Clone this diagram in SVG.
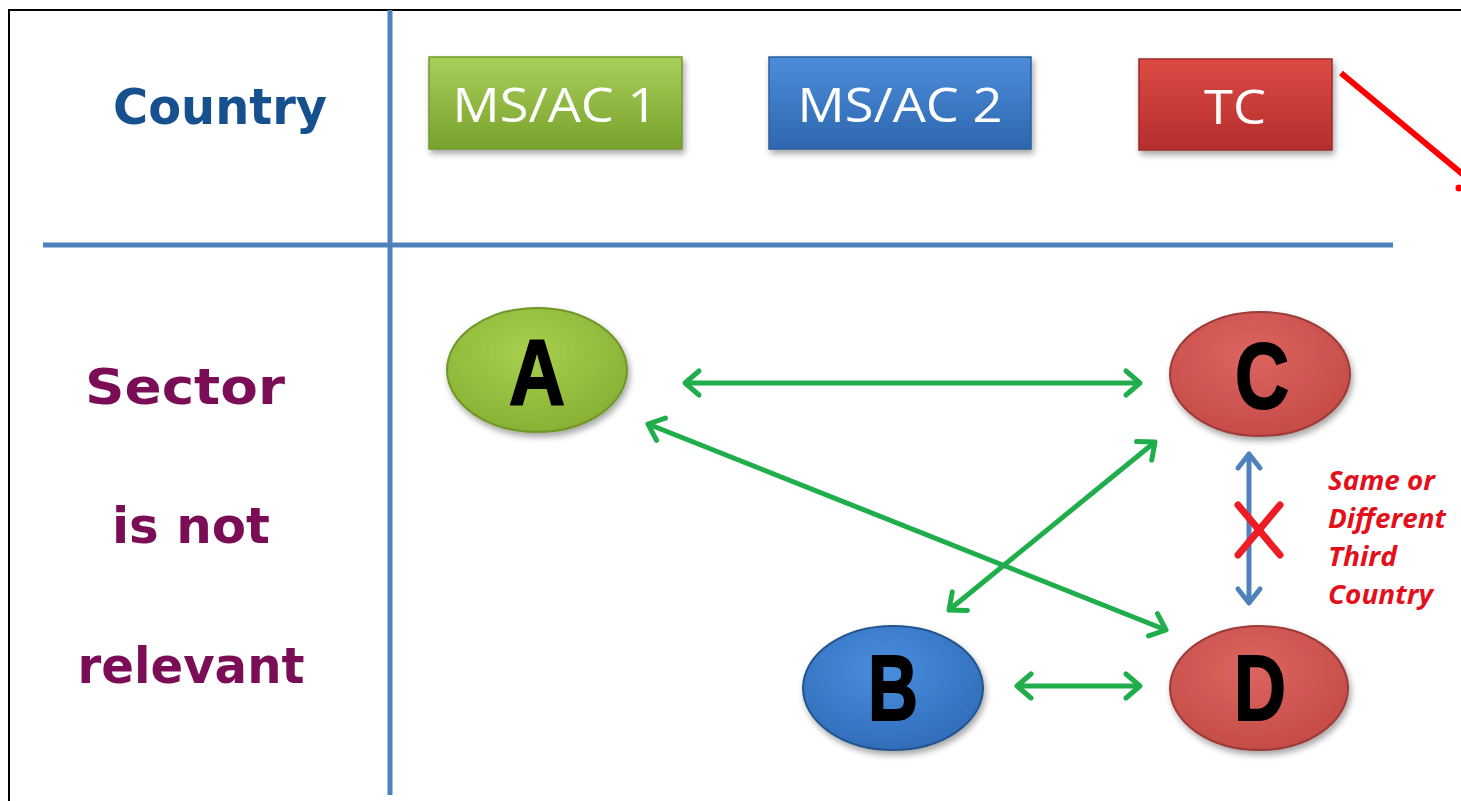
<svg xmlns="http://www.w3.org/2000/svg" width="1461" height="801" viewBox="0 0 1461 801">
<defs>
<style>
.lbl{font-family:"Comic Sans MS","DejaVu Sans",sans-serif;font-weight:bold;font-size:50px}
.box-t{font-family:"Open Sans","Liberation Sans",sans-serif;fill:#fff;font-size:48px;text-anchor:middle}
.let{font-family:"Liberation Sans","DejaVu Sans",sans-serif;font-weight:bold;font-size:92px;fill:#000;stroke:#000;stroke-width:2;text-anchor:middle}
.conn{stroke:#1fae4b;stroke-width:5;fill:none;marker-start:url(#chev);marker-end:url(#chev)}
.note{font-family:"Open Sans","Liberation Sans",sans-serif;font-style:italic;font-weight:bold;font-size:26px;fill:#e3101c}
.grid{stroke:#4f81bd;stroke-width:5}
</style>
<marker id="chev" viewBox="-18 -16 22 32" refX="0" refY="0" markerWidth="22" markerHeight="32" markerUnits="userSpaceOnUse" orient="auto-start-reverse">
<path d="M-14,-12 L0,0 L-14,12" fill="none" stroke="#1fae4b" stroke-width="5" stroke-linecap="round" stroke-linejoin="round"/>
</marker>
<marker id="chevb" viewBox="-18 -16 22 32" refX="0" refY="0" markerWidth="22" markerHeight="32" markerUnits="userSpaceOnUse" orient="auto-start-reverse">
<path d="M-14,-11 L0,0 L-14,11" fill="none" stroke="#4f81bd" stroke-width="5" stroke-linecap="round" stroke-linejoin="round"/>
</marker>
<filter id="sh" x="-20%" y="-20%" width="140%" height="150%">
<feDropShadow dx="2" dy="4" stdDeviation="3" flood-color="#000" flood-opacity="0.35"/>
</filter>
<linearGradient id="gG" x1="0" y1="0" x2="0" y2="1"><stop offset="0" stop-color="#a9cf5a"/><stop offset="1" stop-color="#78a22c"/></linearGradient>
<linearGradient id="gB" x1="0" y1="0" x2="0" y2="1"><stop offset="0" stop-color="#4d8ddb"/><stop offset="1" stop-color="#2d66ae"/></linearGradient>
<linearGradient id="gR" x1="0" y1="0" x2="0" y2="1"><stop offset="0" stop-color="#db4a44"/><stop offset="1" stop-color="#b52e2d"/></linearGradient>
<radialGradient id="eG" cx="0.45" cy="0.35" r="0.7"><stop offset="0" stop-color="#a8d04e"/><stop offset="1" stop-color="#86ae32"/></radialGradient>
<radialGradient id="eB" cx="0.45" cy="0.35" r="0.7"><stop offset="0" stop-color="#4a8ede"/><stop offset="1" stop-color="#2f6bb8"/></radialGradient>
<radialGradient id="eR" cx="0.45" cy="0.35" r="0.7"><stop offset="0" stop-color="#dc6560"/><stop offset="1" stop-color="#c44a46"/></radialGradient>
</defs>
<rect width="1461" height="801" fill="#fff"/>
<rect x="9" y="10" width="1480" height="820" fill="none" stroke="#000" stroke-width="2"/>
<g id="grid">
<line class="grid" x1="390" y1="10" x2="390" y2="795"/>
<line class="grid" x1="43" y1="245" x2="1393" y2="245"/>
</g>
<g id="labels">
<text class="lbl" x="220" y="124" fill="#17508f" text-anchor="middle" textLength="214" lengthAdjust="spacingAndGlyphs">Country</text>
<text class="lbl" x="185" y="404" fill="#7a0d55" text-anchor="middle" textLength="200" lengthAdjust="spacingAndGlyphs">Sector</text>
<text class="lbl" x="191" y="543" fill="#7a0d55" text-anchor="middle" textLength="158" lengthAdjust="spacingAndGlyphs">is not</text>
<text class="lbl" x="191" y="683" fill="#7a0d55" text-anchor="middle" textLength="227" lengthAdjust="spacingAndGlyphs">relevant</text>
</g>
<g id="ms1">
<rect x="429" y="57" width="253" height="92" fill="url(#gG)" stroke="#6f9a2a" stroke-width="1.5" filter="url(#sh)"/>
<text class="box-t" x="555" y="122" textLength="205" lengthAdjust="spacingAndGlyphs">MS/AC 1</text>
</g>
<g id="ms2">
<rect x="769" y="57" width="262" height="92" fill="url(#gB)" stroke="#2a5f9f" stroke-width="1.5" filter="url(#sh)"/>
<text class="box-t" x="900" y="122" textLength="205" lengthAdjust="spacingAndGlyphs">MS/AC 2</text>
</g>
<g id="tc">
<rect x="1139" y="59" width="193" height="91" fill="url(#gR)" stroke="#a02a2a" stroke-width="1.5" filter="url(#sh)"/>
<text class="box-t" x="1235" y="124" textLength="62" lengthAdjust="spacingAndGlyphs">TC</text>
</g>
<g id="redline">
<line x1="1341" y1="73" x2="1466" y2="177" stroke="#ff0000" stroke-width="6"/>
<circle cx="1459" cy="188" r="3.5" fill="#ff0000"/>
</g>
<g id="A">
<ellipse cx="537" cy="370" rx="90" ry="62" fill="url(#eG)" stroke="#6f962a" stroke-width="2" filter="url(#sh)"/>
<text class="let" x="537" y="404" textLength="56" lengthAdjust="spacingAndGlyphs">A</text>
</g>
<g id="C">
<ellipse cx="1260" cy="374" rx="90" ry="62" fill="url(#eR)" stroke="#9c3a37" stroke-width="2" filter="url(#sh)"/>
<text class="let" x="1262" y="408" textLength="54" lengthAdjust="spacingAndGlyphs">C</text>
</g>
<g id="B">
<ellipse cx="893" cy="688" rx="90" ry="62" fill="url(#eB)" stroke="#24558f" stroke-width="2" filter="url(#sh)"/>
<text class="let" x="893" y="720" textLength="50" lengthAdjust="spacingAndGlyphs">B</text>
</g>
<g id="D">
<ellipse cx="1259" cy="688" rx="89" ry="62" fill="url(#eR)" stroke="#9c3a37" stroke-width="2" filter="url(#sh)"/>
<text class="let" x="1260" y="720" textLength="52" lengthAdjust="spacingAndGlyphs">D</text>
</g>
<g id="connectors">
<line class="conn" x1="685" y1="383" x2="1140" y2="383"/>
<line class="conn" x1="648" y1="424" x2="1166" y2="630"/>
<line class="conn" x1="1155" y1="442" x2="949" y2="610"/>
<line class="conn" x1="1017" y1="686" x2="1140" y2="686"/>
<line x1="1249" y1="454" x2="1249" y2="603" stroke="#4f81bd" stroke-width="5" marker-start="url(#chevb)" marker-end="url(#chevb)"/>
</g>
<g id="cross">
<line x1="1238" y1="505" x2="1280" y2="555" stroke="#ee1c25" stroke-width="7" stroke-linecap="round"/>
<line x1="1280" y1="505" x2="1238" y2="555" stroke="#ee1c25" stroke-width="7" stroke-linecap="round"/>
</g>
<g id="note">
<text class="note" x="1328" y="490" textLength="107" lengthAdjust="spacingAndGlyphs">Same or</text>
<text class="note" x="1328" y="528" textLength="118" lengthAdjust="spacingAndGlyphs">Different</text>
<text class="note" x="1328" y="566" textLength="69" lengthAdjust="spacingAndGlyphs">Third</text>
<text class="note" x="1328" y="604" textLength="105" lengthAdjust="spacingAndGlyphs">Country</text>
</g>
</svg>
